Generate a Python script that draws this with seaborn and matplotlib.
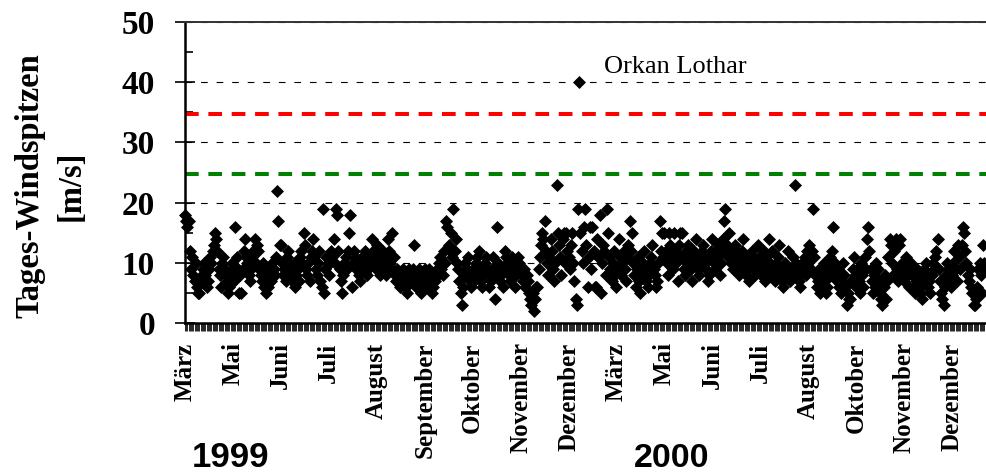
import numpy as np
import pandas as pd
import matplotlib
matplotlib.use("Agg")
import matplotlib.pyplot as plt
import seaborn as sns

# Daily peak gusts [m/s], grouped in blocks of 40 measuring days (one axis label per block)
gusts_b01 = [18, 17, 16, 17, 12, 9, 11, 8, 7, 10, 6, 5, 5, 7, 8, 9, 10, 8, 6, 7,
             9, 11, 10, 12, 13, 15, 14, 12, 9, 8, 6, 10, 11, 9, 8, 7, 5, 6, 8, 10]
gusts_b02 = [9, 7, 16, 11, 9, 5, 8, 5, 9, 12, 14, 11, 10, 8, 7, 9, 11, 12, 14, 10,
             13, 12, 9, 8, 7, 10, 6, 8, 5, 6, 9, 8, 7, 10, 9, 8, 11, 22, 17, 13]
gusts_b03 = [13, 10, 8, 9, 7, 11, 12, 10, 8, 7, 9, 10, 6, 8, 9, 7, 11, 12, 10, 15,
             13, 9, 8, 10, 7, 11, 12, 14, 11, 9, 8, 10, 12, 7, 6, 19, 5, 9, 11, 10]
gusts_b04 = [8, 10, 12, 11, 14, 10, 19, 18, 12, 9, 7, 5, 8, 10, 11, 9, 12, 15, 18, 6,
             10, 12, 11, 9, 10, 8, 7, 9, 11, 10, 12, 11, 8, 9, 10, 11, 14, 12, 10, 9]
gusts_b05 = [13, 11, 9, 8, 10, 12, 11, 9, 8, 14, 12, 10, 9, 15, 11, 8, 7, 9, 8, 6,
             7, 8, 9, 8, 6, 5, 7, 9, 8, 7, 9, 13, 8, 6, 7, 9, 8, 5, 6, 8]
gusts_b06 = [9, 7, 6, 8, 9, 7, 5, 6, 8, 7, 9, 8, 10, 11, 9, 8, 12, 10, 17, 16,
             13, 12, 15, 11, 19, 12, 14, 10, 9, 7, 5, 3, 6, 8, 10, 9, 11, 8, 7, 6]
gusts_b07 = [9, 7, 8, 10, 11, 12, 9, 7, 6, 8, 10, 11, 9, 8, 6, 7, 9, 11, 8, 4,
             16, 10, 9, 7, 8, 6, 9, 12, 11, 10, 8, 7, 9, 11, 10, 6, 8, 9, 11, 10]
gusts_b08 = [9, 8, 7, 9, 6, 8, 7, 5, 4, 3, 5, 2, 4, 6, 6, 9, 11, 13, 15, 14,
             17, 12, 10, 8, 11, 14, 12, 9, 7, 10, 23, 15, 13, 11, 8, 14, 15, 10, 15, 12]
gusts_b09 = [11, 9, 13, 15, 10, 7, 4, 3, 19, 40, 15, 12, 10, 16, 19, 13, 6, 11, 16, 9,
             16, 12, 6, 6, 14, 11, 18, 5, 10, 13, 12, 8, 19, 15, 11, 9, 7, 10, 12, 8]
gusts_b10 = [6, 9, 14, 11, 8, 10, 12, 9, 7, 11, 13, 17, 12, 15, 10, 8, 6, 9, 11, 7,
             5, 8, 10, 12, 9, 7, 6, 8, 10, 11, 13, 9, 8, 6, 7, 10, 17, 12, 15, 11]
gusts_b11 = [15, 12, 10, 8, 15, 13, 11, 9, 15, 12, 10, 7, 13, 15, 11, 15, 9, 8, 12, 10,
             13, 11, 9, 7, 10, 12, 14, 11, 9, 8, 10, 12, 13, 11, 10, 9, 7, 8, 11, 12]
gusts_b12 = [14, 10, 9, 12, 11, 13, 8, 10, 12, 14, 17, 19, 13, 11, 15, 12, 10, 9, 11, 13,
             12, 10, 8, 11, 9, 12, 14, 10, 8, 11, 9, 7, 10, 12, 11, 9, 8, 10, 13, 11]
gusts_b13 = [9, 8, 10, 12, 7, 11, 9, 14, 10, 8, 12, 9, 7, 10, 8, 11, 13, 9, 7, 6,
             8, 10, 9, 12, 8, 7, 9, 11, 8, 23, 10, 9, 7, 6, 8, 10, 9, 11, 8, 12]
gusts_b14 = [10, 13, 9, 12, 19, 11, 8, 6, 7, 9, 5, 6, 8, 10, 7, 5, 6, 9, 11, 8,
             12, 16, 10, 8, 7, 9, 6, 5, 7, 10, 8, 6, 3, 5, 4, 4, 7, 9, 11, 8]
gusts_b15 = [6, 9, 7, 5, 10, 8, 6, 11, 9, 14, 16, 12, 9, 7, 5, 8, 6, 10, 9, 7,
             5, 4, 3, 6, 8, 4, 7, 11, 14, 13, 10, 8, 12, 14, 9, 7, 13, 14, 10, 8]
gusts_b16 = [7, 9, 11, 8, 6, 9, 10, 8, 6, 5, 7, 9, 8, 6, 5, 4, 7, 9, 10, 8,
             6, 7, 5, 8, 10, 9, 11, 12, 14, 9, 7, 5, 4, 3, 6, 8, 10, 9, 7, 6]
gusts_b17 = [8, 10, 12, 9, 7, 13, 11, 9, 13, 16, 15, 12, 10, 8, 7, 9, 6, 5, 3, 3,
             4, 6, 9, 10, 8, 5, 13, 10, 9]

month_labels = ["März", "Mai", "Juni", "Juli", "August", "September", "Oktober",
                "November", "Dezember", "März", "Mai", "Juni", "Juli", "August",
                "Oktober", "November", "Dezember"]
year_labels = ["1999", "2000"]
level_green = 24.8
level_red = 34.8
storm_label = "Orkan Lothar"
y_label = "Tages-Windspitzen\n[m/s]"

blocks = [gusts_b01, gusts_b02, gusts_b03, gusts_b04, gusts_b05, gusts_b06,
          gusts_b07, gusts_b08, gusts_b09, gusts_b10, gusts_b11, gusts_b12,
          gusts_b13, gusts_b14, gusts_b15, gusts_b16, gusts_b17]
block_len = 40
values = np.concatenate([np.asarray(b, dtype=float) for b in blocks])
n_days = len(values)
df = pd.DataFrame({"tag": np.arange(n_days), "spitze": values})

sns.set_style("ticks")
plt.rcParams["font.family"] = ["Liberation Serif", "DejaVu Serif"]
plt.rcParams["font.weight"] = "bold"
for key in ("text.color", "axes.labelcolor", "xtick.color", "ytick.color",
            "axes.edgecolor"):
    plt.rcParams[key] = "black"

W, H = 986, 474
fig = plt.figure(figsize=(W / 100, H / 100), dpi=100)
ax = fig.add_axes([185 / W, 1 - 323 / H, (W - 185) / W, (323 - 22) / H])

# horizontal dashed grid and the two thresholds
ax.set_axisbelow(True)
ax.grid(axis="y", which="major", color="black", linewidth=0.8,
        linestyle=(0, (6, 8)))
ax.axhline(level_red, color="#ff0000", linewidth=2.9,
           linestyle=(0, (3.4, 2.4)), zorder=2)
ax.axhline(level_green, color="#008000", linewidth=2.9,
           linestyle=(0, (3.4, 2.4)), zorder=2)

sns.scatterplot(data=df, x="tag", y="spitze", marker="D", s=44, color="black",
                edgecolor="black", linewidth=0, legend=False, ax=ax,
                clip_on=False, zorder=3)

# storm annotation next to the highest value
i_max = int(np.argmax(values))
ax.annotate(storm_label, xy=(i_max, values[i_max]), xytext=(18, 6.5),
            textcoords="offset points", ha="left", va="baseline",
            fontsize=19, fontweight="normal", color="black")

px_per_day = (952 - 185) / (block_len * (len(month_labels) - 1))
ax.set_xlim(0, (W - 185) / px_per_day)
ax.set_ylim(0, 50)

ax.set_yticks(np.arange(0, 51, 10))
ax.set_yticks(np.arange(5, 50, 10), minor=True)
ax.tick_params(axis="y", which="major", direction="inout", length=14.4,
               width=1.2, pad=14.4, labelsize=24, colors="black")
ax.tick_params(axis="y", which="minor", direction="in", length=5.8, width=1.2)

ax.set_xticks(np.arange(len(month_labels)) * block_len, labels=month_labels,
              rotation=90)
ax.set_xticks(np.arange(n_days), minor=True)
ax.tick_params(axis="x", which="both", direction="out", length=6, width=0.6,
               pad=8, labelsize=18, colors="black")

ax.set_xlabel("")
ax.set_ylabel("")

for side in ("left", "bottom"):
    ax.spines[side].set_color("black")
    ax.spines[side].set_linewidth(1.8)
ax.spines["top"].set_color("#333333")
ax.spines["top"].set_linewidth(1.4)
ax.spines["right"].set_visible(False)

fig.text(50.5 / W, 1 - 186 / H, y_label, rotation=90, ha="center", va="center",
         multialignment="center", fontsize=23.5, fontweight="bold",
         linespacing=1.45)

fig.text(230 / W, 1 - 467 / H, year_labels[0], family="Liberation Sans",
         fontsize=25, fontweight="bold", ha="center", va="baseline")
fig.text(672 / W, 1 - 467 / H, year_labels[1], family="Liberation Sans",
         fontsize=24.5, fontweight="bold", ha="center", va="baseline")

fig.savefig("out.png", dpi=100)
